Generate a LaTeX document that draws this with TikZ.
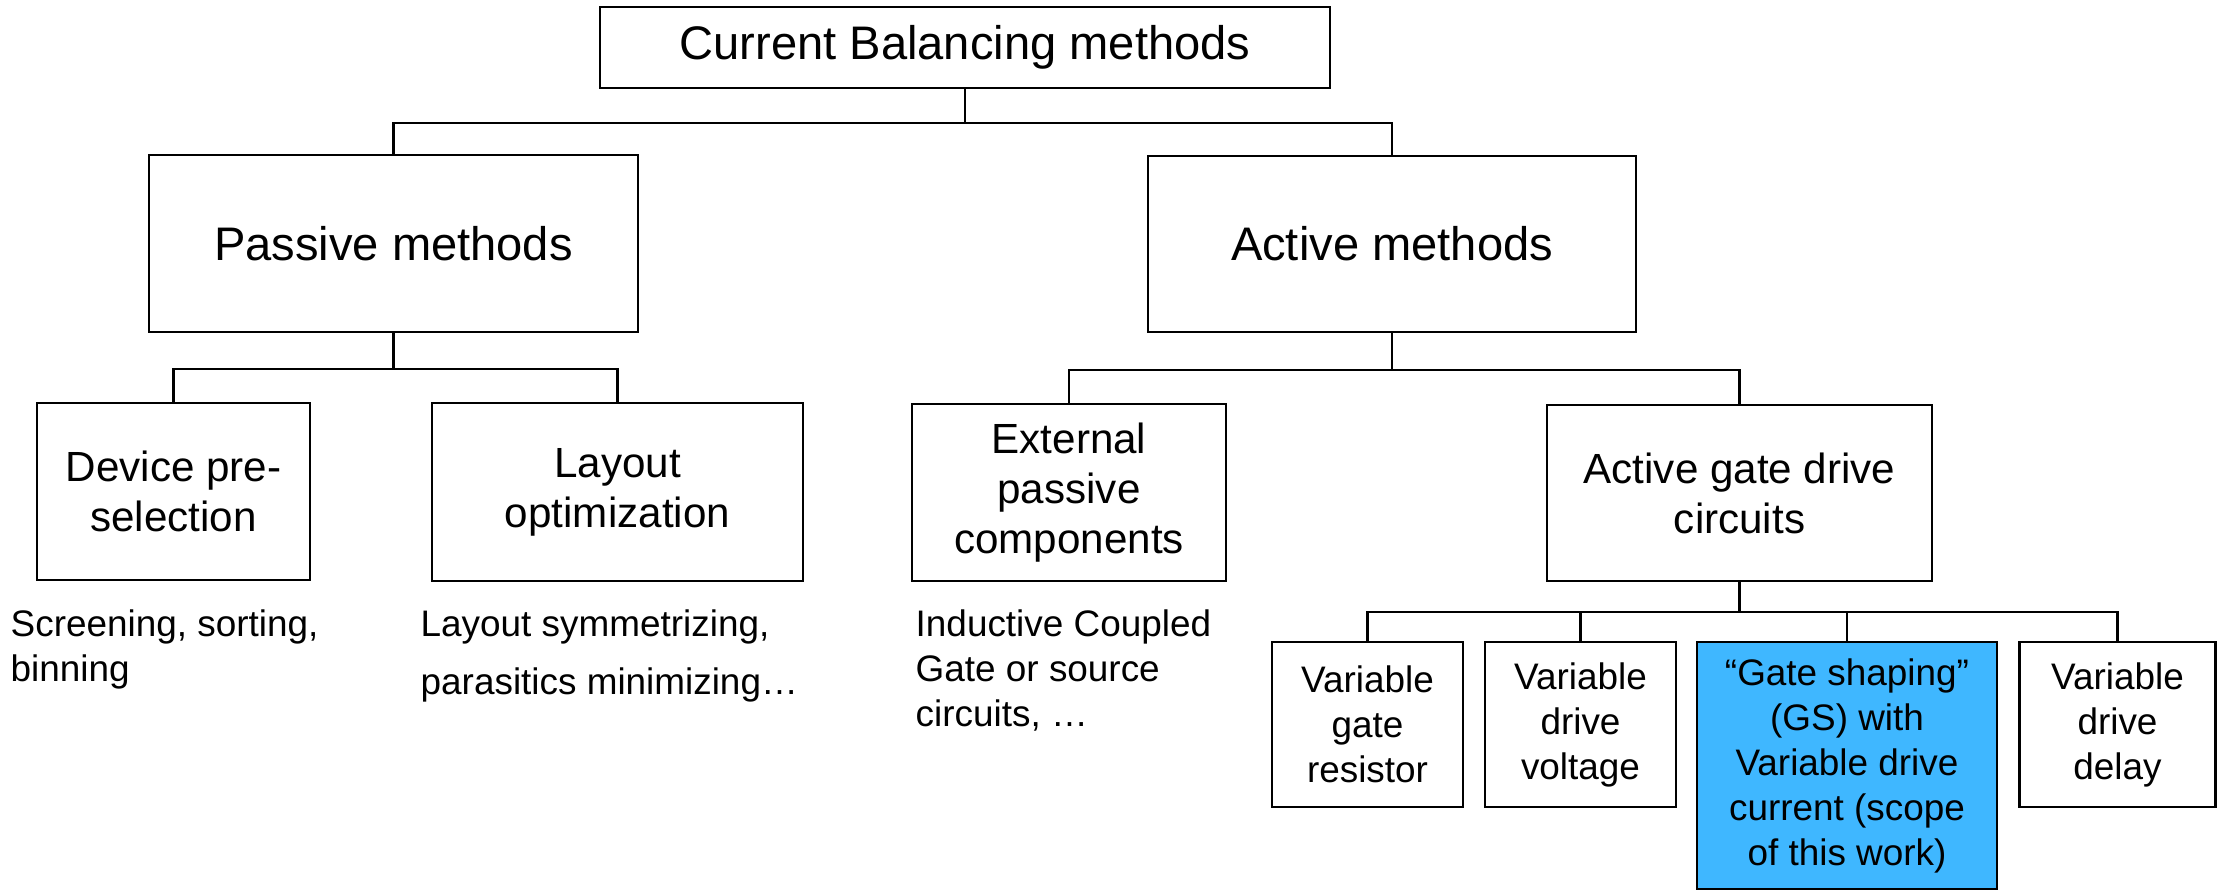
\documentclass[tikz,border=0pt]{standalone}
\usepackage{fontspec}
\setmainfont{Liberation Sans}
\usepackage{xcolor}
\usepackage{tikz}
\usetikzlibrary{calc}
\definecolor{ink}{HTML}{000000}
\definecolor{scopeblue}{HTML}{3FB7FF}
\tikzset{
  box/.style={draw=ink, line width=0.75pt, align=center, inner sep=2pt},
  bigbox/.style={box, font=\fontsize{13.4}{16}\selectfont},
  midbox/.style={box, font=\fontsize{12}{14.2}\selectfont},
  smallbox/.style={box, font=\fontsize{10.5}{12.8}\selectfont},
  note/.style={anchor=base west, align=left, inner sep=0pt, font=\fontsize{10.5}{12.8}\selectfont},
  conn/.style={draw=ink, line width=0.65pt}
}

\begin{document}
\begin{tikzpicture}
  \useasboundingbox (0,0) rectangle (22.17,-8.92);

  \node[bigbox, minimum width=7.30cm, minimum height=0.81cm] (top) at (9.65,-0.475) {Current Balancing methods};

  \node[bigbox, minimum width=4.89cm, minimum height=1.77cm] (passive) at (3.935,-2.435) {Passive methods};
  \node[bigbox, minimum width=4.88cm, minimum height=1.76cm] (active) at (13.92,-2.44) {Active methods};

  \node[midbox, minimum width=2.73cm, minimum height=1.77cm] (device) at (1.735,-4.915) {Device pre-\\selection};
  \node[midbox, minimum width=3.71cm, minimum height=1.78cm] (layout) at (6.175,-4.92) {Layout\\optimization};
  \node[midbox, minimum width=3.14cm, minimum height=1.77cm] (external) at (10.69,-4.925) {External\\passive\\components};
  \node[midbox, minimum width=3.85cm, minimum height=1.76cm] (agd) at (17.395,-4.93) {Active gate drive\\circuits};

  \node[smallbox, minimum width=1.91cm, minimum height=1.65cm] (vgr) at (13.675,-7.245) {Variable\\gate\\resistor};
  \node[smallbox, minimum width=1.91cm, minimum height=1.65cm] (vdv) at (15.805,-7.245) {Variable\\drive\\voltage};
  \node[smallbox, fill=scopeblue, minimum width=3.00cm, minimum height=2.47cm] (gs) at (18.47,-7.655) {“Gate shaping”\\(GS) with\\Variable drive\\current (scope\\of this work)};
  \node[smallbox, minimum width=1.96cm, minimum height=1.65cm] (vdd) at (21.175,-7.245) {Variable\\drive\\delay};

  % notes sit on the baseline of their last line
  \node[note] (screen) at (0.10,-6.81) {Screening, sorting,\\binning};
  \node[note] (symm) at (4.20,-6.94) {Layout symmetrizing,\\[3.7pt]parasitics minimizing…};
  \node[note] (coupled) at (9.15,-7.26) {Inductive Coupled\\Gate or source\\circuits, …};

  \draw[conn] (top.south) -- ++(0,-0.34) -| (passive.north);
  \draw[conn] (top.south) -- ++(0,-0.34) -| (active.north);

  \draw[conn] (passive.south) -- ++(0,-0.36) -| (device.north);
  \draw[conn] (passive.south) -- ++(0,-0.36) -| (layout.north);

  \draw[conn] (active.south) -- ++(0,-0.365) -| (external.north);
  \draw[conn] (active.south) -- ++(0,-0.365) -| (agd.north);

  \draw[conn] (agd.south) -- ++(0,-0.30) -| (vgr.north);
  \draw[conn] (agd.south) -- ++(0,-0.30) -| (vdv.north);
  \draw[conn] (agd.south) -- ++(0,-0.30) -| (gs.north);
  \draw[conn] (agd.south) -- ++(0,-0.30) -| (vdd.north);
\end{tikzpicture}
\end{document}
